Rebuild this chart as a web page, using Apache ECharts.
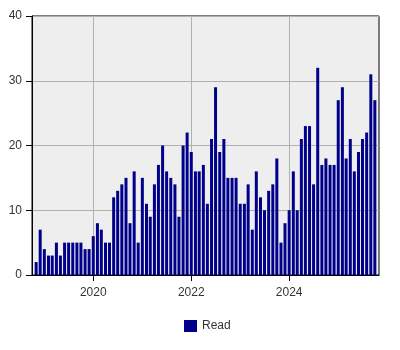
<!DOCTYPE html>
<html>
<head>
<meta charset="utf-8">
<script src="https://cdn.jsdelivr.net/npm/echarts@6/dist/echarts.min.js"></script>
<style>html,body{margin:0;padding:0;background:#fff}#c{width:400px;height:350px}</style>
</head>
<body>
<div id="c"></div>
<script>
// First month of data: November 2018, one value per month
const startYear = 2018;
const startMonth = 10; // 0-based (November)
const readValues = [
  2, 7,
  4, 3, 3, 5, 3, 5, 5, 5, 5, 5, 4, 4,
  6, 8, 7, 5, 5, 12, 13, 14, 15, 8, 16, 5,
  15, 11, 9, 14, 17, 20, 16, 15, 14, 9, 20, 22,
  19, 16, 16, 17, 11, 21, 29, 19, 21, 15, 15, 15,
  11, 11, 14, 7, 16, 12, 10, 13, 14, 18, 5, 8,
  10, 16, 10, 21, 23, 23, 14, 32, 17, 18, 17, 17,
  27, 29, 18, 21, 16, 19, 21, 22, 31, 27
];
const tickYears = [2020, 2022, 2024];
const yTicks = [0, 10, 20, 30, 40];
const seriesName = 'Read';

const ts = (y, m) => Date.UTC(y, m, 1);
const data = readValues.map((v, i) => [ts(startYear, startMonth + i), v]);
const tickValues = tickYears.map(y => ts(y, 0));

const chart = echarts.init(document.getElementById('c'), null, {renderer: 'canvas'});
chart.setOption({
  animation: false,
  textStyle: {fontFamily: 'Liberation Sans, Arial, sans-serif'},
  grid: {left: 32, right: 21, top: 16, bottom: 75, show: true,
         backgroundColor: '#eeeeee', borderColor: '#000', borderWidth: 1},
  legend: {
    data: [seriesName], left: 179, top: 315, itemWidth: 13, itemHeight: 12, itemGap: 10,
    icon: 'rect',
    textStyle: {color: '#333', fontSize: 12, fontFamily: 'Liberation Sans, Arial, sans-serif'}
  },
  xAxis: {
    type: 'value',
    min: ts(2018, 9), max: ts(2025, 10),
    axisLine: {lineStyle: {color: '#000', width: 1}},
    axisTick: {show: true, length: 6, customValues: tickValues, lineStyle: {color: '#000'}},
    axisLabel: {customValues: tickValues, color: '#333', fontSize: 12, margin: 12,
      formatter: v => String(new Date(v).getUTCFullYear())},
    splitLine: {show: true, lineStyle: {color: '#b0b0b0', width: 1}}
  },
  yAxis: {
    type: 'value', min: yTicks[0], max: yTicks[yTicks.length - 1], interval: 10,
    axisLine: {show: true, lineStyle: {color: '#000', width: 1}},
    axisTick: {show: true, length: 6, lineStyle: {color: '#000'}},
    axisLabel: {color: '#333', fontSize: 12, margin: 10},
    splitLine: {show: true, lineStyle: {color: '#b0b0b0', width: 1}}
  },
  series: [{
    name: seriesName, type: 'bar', data: data, barWidth: 3,
    itemStyle: {color: '#00008b'}
  }]
});
</script>
</body>
</html>
